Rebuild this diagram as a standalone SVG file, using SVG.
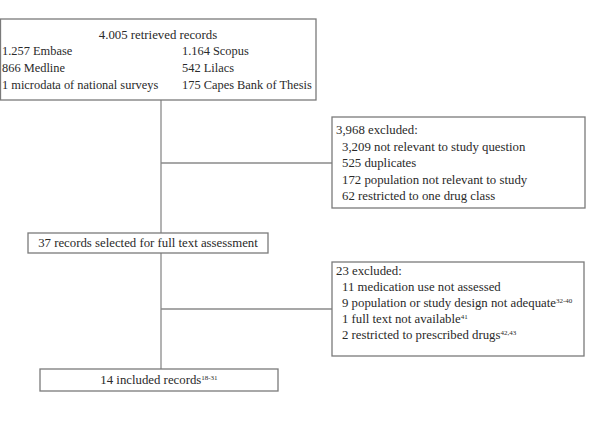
<svg xmlns="http://www.w3.org/2000/svg" width="591" height="421" viewBox="0 0 591 421">
<style>
.box{fill:#fff;stroke:#7a7a7a;stroke-width:1.3}
.ln{stroke:#8a8a8a;stroke-width:1.3;fill:none}
text{font-family:"Liberation Serif","Times New Roman",serif;font-size:12.8px;fill:#2a2a2a}
.s{font-size:12.4px}
.sup{font-size:7px}
.c{text-anchor:middle}
</style>
<rect width="591" height="421" fill="#fff"/>
<g id="connectors">
<line class="ln" x1="161" y1="100" x2="161" y2="233"/>
<line class="ln" x1="161" y1="163" x2="332" y2="163"/>
<line class="ln" x1="161" y1="253" x2="161" y2="369"/>
<line class="ln" x1="161" y1="309" x2="332" y2="309"/>
</g>
<g id="retrieved">
<rect class="box" x="0.5" y="19" width="315.5" height="81"/>
<text class="c" x="158" y="39">4.005 retrieved records</text>
<text class="s" x="2" y="55">1.257 Embase</text>
<text class="s" x="182" y="55">1.164 Scopus</text>
<text class="s" x="2" y="72">866 Medline</text>
<text class="s" x="182" y="72">542 Lilacs</text>
<text class="s" x="2" y="89">1 microdata of national surveys</text>
<text class="s" x="182" y="89">175 Capes Bank of Thesis</text>
</g>
<g id="excluded1">
<rect class="box" x="332" y="117" width="253" height="91"/>
<text x="336" y="134">3,968 excluded:</text>
<text x="342" y="151">3,209 not relevant to study question</text>
<text x="342" y="167">525 duplicates</text>
<text x="342" y="184">172 population not relevant to study</text>
<text x="342" y="200">62 restricted to one drug class</text>
</g>
<g id="selected">
<rect class="box" x="28" y="233" width="240" height="20"/>
<text class="c" x="148" y="247">37 records selected for full text assessment</text>
</g>
<g id="excluded2">
<rect class="box" x="332" y="262" width="252" height="94"/>
<text x="336" y="275">23 excluded:</text>
<text x="342" y="291">11 medication use not assessed</text>
<text x="342" y="307">9 population or study design not adequate<tspan class="sup" dy="-4">32-40</tspan></text>
<text x="342" y="323">1 full text not available<tspan class="sup" dy="-4">41</tspan></text>
<text x="342" y="339">2 restricted to prescribed drugs<tspan class="sup" dy="-4">42,43</tspan></text>
</g>
<g id="included">
<rect class="box" x="40" y="369" width="238" height="22"/>
<text class="c" x="159" y="384">14 included records<tspan class="sup" dy="-4">18-31</tspan></text>
</g>
</svg>
